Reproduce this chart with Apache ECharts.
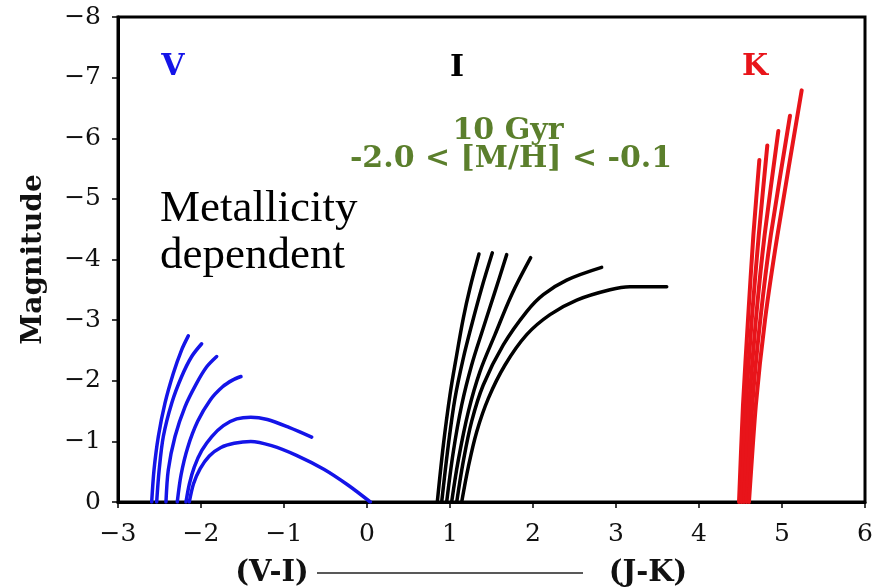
<!DOCTYPE html>
<html>
<head>
<meta charset="utf-8">
<script src="https://cdn.jsdelivr.net/npm/echarts@6/dist/echarts.min.js"></script>
<style>
  html, body { margin: 0; padding: 0; background: #fff; }
  #chart { width: 883px; height: 587px; }
</style>
</head>
<body>
<div id="chart"></div>
<script>
// Isochrone tracks, 10 Gyr, six metallicities from [M/H] = -2.0 to -0.1.
// Each track is a list of [colour, absolute magnitude] pairs.

// (V-I) colour vs M_V
const vTrack1 = [[-2.594, 0], [-2.566, -0.53], [-2.514, -1.08], [-2.434, -1.63], [-2.334, -2.12], [-2.233, -2.51], [-2.153, -2.74]];
const vTrack2 = [[-2.534, 0], [-2.504, -0.53], [-2.454, -1.08], [-2.353, -1.63], [-2.233, -2.07], [-2.112, -2.40], [-1.992, -2.61]];
const vTrack3 = [[-2.422, 0], [-2.394, -0.53], [-2.313, -1.08], [-2.193, -1.57], [-2.052, -1.96], [-1.931, -2.23], [-1.811, -2.40]];
const vTrack4 = [[-2.286, 0], [-2.240, -0.45], [-2.160, -0.90], [-2.040, -1.33], [-1.890, -1.68], [-1.740, -1.90], [-1.620, -2.01], [-1.518, -2.07]];
const vTrack5 = [[-2.181, 0], [-2.140, -0.30], [-2.080, -0.58], [-1.990, -0.85], [-1.870, -1.08], [-1.730, -1.26], [-1.570, -1.37], [-1.400, -1.40], [-1.200, -1.36], [-0.940, -1.23], [-0.667, -1.07]];
const vTrack6 = [[-2.141, 0], [-2.090, -0.30], [-2.010, -0.55], [-1.900, -0.76], [-1.760, -0.90], [-1.600, -0.97], [-1.400, -1.00], [-1.150, -0.93], [-0.850, -0.77], [-0.520, -0.54], [-0.230, -0.28], [0.040, 0]];

// (V-I) colour vs M_I
const iTrack1 = [[0.847, 0], [0.920, -0.94], [1.000, -1.77], [1.081, -2.43], [1.160, -3.03], [1.241, -3.53], [1.349, -4.09]];
const iTrack2 = [[0.900, 0], [0.980, -0.94], [1.060, -1.71], [1.160, -2.37], [1.261, -2.92], [1.382, -3.53], [1.510, -4.11]];
const iTrack3 = [[0.960, 0], [1.040, -0.83], [1.141, -1.60], [1.261, -2.26], [1.401, -2.87], [1.542, -3.47], [1.683, -4.08]];
const iTrack4 = [[1.020, 0], [1.100, -0.69], [1.221, -1.49], [1.361, -2.15], [1.542, -2.76], [1.743, -3.42], [1.972, -4.03]];
const iTrack5 = [[1.081, 0], [1.160, -0.67], [1.261, -1.33], [1.401, -1.93], [1.642, -2.59], [1.924, -3.14], [2.124, -3.42], [2.406, -3.66], [2.827, -3.87]];
const iTrack6 = [[1.141, 0], [1.221, -0.58], [1.322, -1.16], [1.462, -1.71], [1.663, -2.26], [1.924, -2.76], [2.205, -3.09], [2.527, -3.33], [2.928, -3.50], [3.169, -3.55], [3.611, -3.55]];

// (J-K) colour vs M_K
const kTrack1 = [[4.482, 0], [4.530, -1.60], [4.590, -3.00], [4.655, -4.40], [4.727, -5.64]];
const kTrack2 = [[4.512, 0], [4.565, -1.60], [4.635, -3.00], [4.720, -4.40], [4.823, -5.88]];
const kTrack3 = [[4.542, 0], [4.603, -1.60], [4.685, -3.00], [4.790, -4.40], [4.956, -6.12]];
const kTrack4 = [[4.572, 0], [4.642, -1.60], [4.738, -3.00], [4.865, -4.40], [5.096, -6.37]];
const kTrack5 = [[4.602, 0], [4.685, -1.60], [4.795, -3.00], [4.945, -4.40], [5.237, -6.79]];

const xTicks = { min: -3, max: 6, step: 1 };
const yTicks = { min: -8, max: 0, step: 1 };

const bandLabels = ['V', 'I', 'K'];
const ageLabel = '10 Gyr';
const metalLabel = '-2.0 < [M/H] < -0.1';
const noteLines = ['Metallicity', 'dependent'];
const xLabelLeft = '(V-I)';
const xLabelRight = '(J-K)';
const yLabel = 'Magnitude';

const BLUE = '#1414e8';
const BLACK = '#000000';
const RED = '#e8141a';
const GREEN = '#5b7f2c';
const SERIF = '"Liberation Serif", "DejaVu Serif", serif';
const WIDE_SERIF = '"DejaVu Serif", "Liberation Serif", serif';

const minus = v => (v < 0 ? '\u2212' + Math.abs(v) : String(v));

function track(data, color, width, smooth) {
  return {
    type: 'line',
    data: data,
    smooth: smooth,
    showSymbol: false,
    silent: true,
    lineStyle: { color: color, width: width, cap: 'round' },
    z: 3
  };
}

const series = [
  ...[vTrack1, vTrack2, vTrack3, vTrack4, vTrack5, vTrack6].map(d => track(d, BLUE, 3.5, 0.3)),
  ...[iTrack1, iTrack2, iTrack3, iTrack4, iTrack5, iTrack6].map(d => track(d, BLACK, 3.5, 0.35)),
  ...[kTrack1, kTrack2, kTrack3, kTrack4, kTrack5].map(d => track(d, RED, 4, 0.2))
];

const chart = echarts.init(document.getElementById('chart'), null, { renderer: 'canvas' });

chart.setOption({
  backgroundColor: '#ffffff',
  animation: false,
  grid: {
    left: 118, right: 18, top: 17, bottom: 85,
    show: true, borderColor: '#000', borderWidth: 3, backgroundColor: 'transparent'
  },
  xAxis: {
    type: 'value',
    min: xTicks.min, max: xTicks.max, interval: xTicks.step,
    axisLine: { show: true, onZero: false, lineStyle: { color: '#000', width: 3 } },
    axisTick: { show: true, inside: false, length: 6, lineStyle: { color: '#000', width: 1.5 } },
    axisLabel: { margin: 20, fontFamily: WIDE_SERIF, fontSize: 25, color: '#111', formatter: minus },
    splitLine: { show: false }
  },
  yAxis: {
    type: 'value',
    min: yTicks.min, max: yTicks.max, interval: yTicks.step,
    inverse: true,
    name: yLabel,
    nameLocation: 'middle',
    nameRotate: 90,
    nameGap: 70,
    nameTextStyle: { fontFamily: WIDE_SERIF, fontWeight: 'bold', fontSize: 28, color: '#111' },
    axisLine: { show: true, onZero: false, lineStyle: { color: '#000', width: 3 } },
    axisTick: { show: true, inside: false, length: 6, lineStyle: { color: '#000', width: 1.5 } },
    axisLabel: { margin: 17, fontFamily: WIDE_SERIF, fontSize: 25, color: '#111', formatter: minus },
    splitLine: { show: false }
  },
  series: series,
  graphic: [
    { type: 'text', x: 173, y: 67, style: { text: bandLabels[0], font: 'bold 30px ' + WIDE_SERIF, fill: BLUE, align: 'center', verticalAlign: 'middle' } },
    { type: 'text', x: 457, y: 68, style: { text: bandLabels[1], font: 'bold 30px ' + WIDE_SERIF, fill: BLACK, align: 'center', verticalAlign: 'middle' } },
    { type: 'text', x: 755, y: 67, style: { text: bandLabels[2], font: 'bold 30px ' + WIDE_SERIF, fill: RED, align: 'center', verticalAlign: 'middle' } },
    { type: 'text', x: 508, y: 131, style: { text: ageLabel, font: 'bold 30px ' + WIDE_SERIF, fill: GREEN, align: 'center', verticalAlign: 'middle' } },
    { type: 'text', x: 511, y: 159, style: { text: metalLabel, font: 'bold 30px ' + WIDE_SERIF, fill: GREEN, align: 'center', verticalAlign: 'middle' } },
    { type: 'text', x: 160, y: 186, style: { text: noteLines.join('\n'), font: '45px ' + SERIF, lineHeight: 47, fill: '#000', align: 'left', verticalAlign: 'top' } },
    { type: 'text', x: 272, y: 573, style: { text: xLabelLeft, font: 'bold 29px ' + WIDE_SERIF, fill: '#111', align: 'center', verticalAlign: 'middle' } },
    { type: 'line', shape: { x1: 317, y1: 573, x2: 583, y2: 573 }, style: { stroke: '#222', lineWidth: 1.5 } },
    { type: 'text', x: 648, y: 573, style: { text: xLabelRight, font: 'bold 29px ' + WIDE_SERIF, fill: '#111', align: 'center', verticalAlign: 'middle' } }
  ]
});
</script>
</body>
</html>
